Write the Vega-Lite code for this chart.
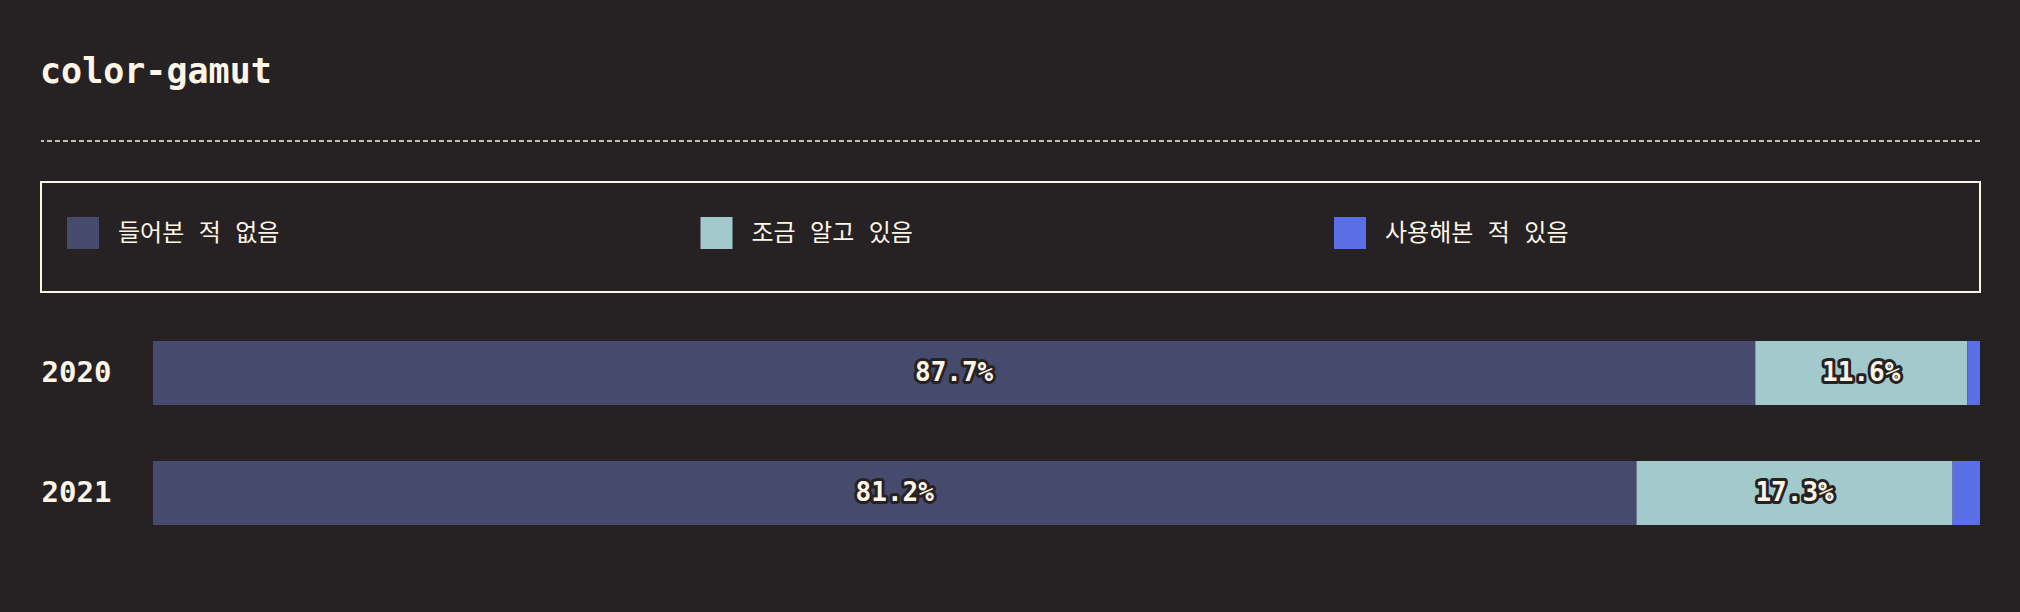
{
  "$schema": "https://vega.github.io/schema/vega-lite/v6.json",
  "background": "#262223",
  "padding": {"left": 40, "top": 55, "right": 41, "bottom": 80},
  "title": {
    "text": "color-gamut",
    "anchor": "start",
    "font": "DejaVu Sans Mono",
    "fontSize": 35,
    "fontWeight": "bold",
    "color": "#fdf5e6",
    "offset": 50
  },
  "datasets": {
    "answers": [
      {"year": "2020", "answer": "들어본 적 없음", "share": 0.877},
      {"year": "2020", "answer": "조금 알고 있음", "share": 0.116},
      {"year": "2020", "answer": "사용해본 적 있음", "share": 0.007},
      {"year": "2021", "answer": "들어본 적 없음", "share": 0.812},
      {"year": "2021", "answer": "조금 알고 있음", "share": 0.173},
      {"year": "2021", "answer": "사용해본 적 있음", "share": 0.015}
    ],
    "categories": [
      {"answer": "들어본 적 없음"},
      {"answer": "조금 알고 있음"},
      {"answer": "사용해본 적 있음"}
    ]
  },
  "config": {
    "view": {"stroke": null},
    "concat": {"spacing": 39}
  },
  "vconcat": [
    {
      "width": 1939,
      "height": 1,
      "data": {"values": [{}]},
      "mark": {"type": "rule", "stroke": "#fdf5e6", "strokeWidth": 1.5, "strokeDash": [5, 3]},
      "encoding": {
        "y": {"datum": 0, "type": "quantitative", "scale": {"domain": [0, 1]}, "axis": null}
      }
    },
    {
      "width": 1939,
      "height": 110,
      "view": {"stroke": "#fdf5e6", "strokeWidth": 2},
      "data": {"name": "categories"},
      "encoding": {
        "x": {
          "field": "answer",
          "type": "nominal",
          "scale": {
            "type": "point",
            "domain": ["들어본 적 없음", "조금 알고 있음", "사용해본 적 있음"],
            "range": [42, 1309],
            "padding": 0
          },
          "axis": null
        }
      },
      "layer": [
        {
          "mark": {"type": "square", "size": 1024, "filled": true, "opacity": 1},
          "encoding": {
            "yOffset": {"value": -4},
            "color": {
              "field": "answer",
              "type": "nominal",
              "scale": {
                "domain": ["들어본 적 없음", "조금 알고 있음", "사용해본 적 있음"],
                "range": ["#464b6e", "#a2cacd", "#5a6ee5"]
              },
              "legend": null
            }
          }
        },
        {
          "mark": {
            "type": "text",
            "align": "left",
            "dx": 35,
            "dy": -3,
            "font": "DejaVu Sans Mono, Noto Sans CJK KR",
            "fontSize": 24,
            "color": "#fdf5e6"
          },
          "encoding": {"text": {"field": "answer"}}
        }
      ]
    },
    {
      "width": 1939,
      "height": 202,
      "data": {"name": "answers"},
      "transform": [
        {"calculate": "indexof(['들어본 적 없음', '조금 알고 있음', '사용해본 적 있음'], datum.answer)", "as": "idx"},
        {"stack": "share", "groupby": ["year"], "sort": [{"field": "idx", "order": "ascending"}], "as": ["s0", "s1"]},
        {"calculate": "(datum.s0 + datum.s1) / 2", "as": "mid"}
      ],
      "encoding": {
        "y": {
          "field": "year",
          "type": "nominal",
          "scale": {"paddingInner": 0.4667, "paddingOuter": 0.075},
          "axis": {
            "title": null,
            "domain": false,
            "ticks": false,
            "labelAlign": "left",
            "labelPadding": 0,
            "labelFont": "DejaVu Sans Mono",
            "labelFontWeight": "bold",
            "labelFontSize": 29,
            "labelColor": "#fdf5e6"
          }
        }
      },
      "layer": [
        {
          "mark": {"type": "bar"},
          "encoding": {
            "x": {"field": "s0", "type": "quantitative", "scale": {"domain": [0, 1], "range": [112, 1939]}, "axis": null},
            "x2": {"field": "s1"},
            "color": {"field": "answer", "type": "nominal", "legend": null}
          }
        },
        {
          "transform": [{"filter": "datum.share > 0.05"}],
          "mark": {
            "type": "text",
            "font": "DejaVu Sans Mono",
            "fontWeight": "bold",
            "fontSize": 26,
            "fill": "#262223",
            "stroke": "#262223",
            "strokeWidth": 6,
            "strokeJoin": "round"
          },
          "encoding": {
            "x": {"field": "mid", "type": "quantitative"},
            "text": {"field": "share", "type": "quantitative", "format": ".1%"}
          }
        },
        {
          "transform": [{"filter": "datum.share > 0.05"}],
          "mark": {
            "type": "text",
            "font": "DejaVu Sans Mono",
            "fontWeight": "bold",
            "fontSize": 26,
            "fill": "#fdf5e6"
          },
          "encoding": {
            "x": {"field": "mid", "type": "quantitative"},
            "text": {"field": "share", "type": "quantitative", "format": ".1%"}
          }
        }
      ]
    }
  ]
}
